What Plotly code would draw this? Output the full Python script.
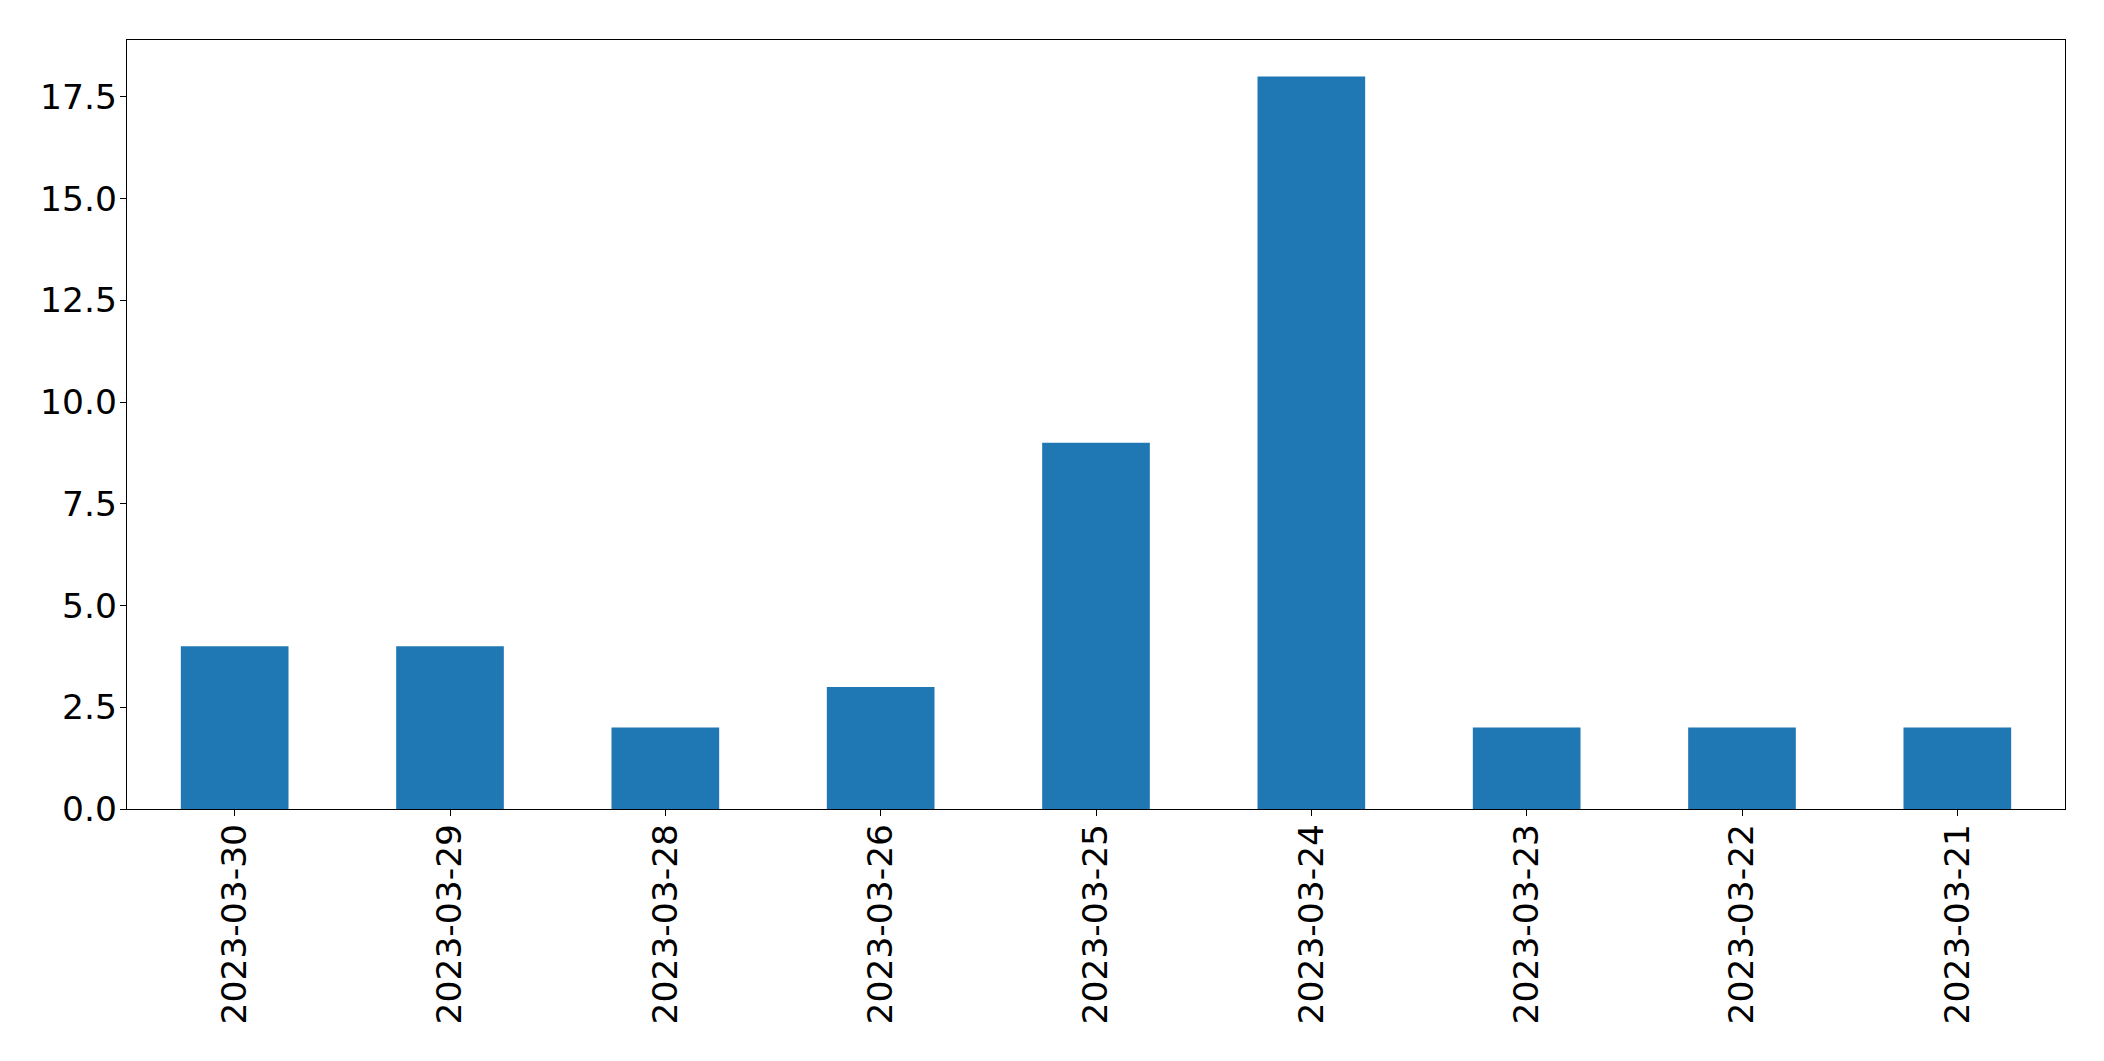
import plotly.graph_objects as go

dates = ["2023-03-30", "2023-03-29", "2023-03-28", "2023-03-26", "2023-03-25",
         "2023-03-24", "2023-03-23", "2023-03-22", "2023-03-21"]
counts = [4, 4, 2, 3, 9, 18, 2, 2, 2]
ytick_vals = [0, 2.5, 5, 7.5, 10, 12.5, 15, 17.5]

fig = go.Figure(go.Bar(x=dates, y=counts, marker_color="#1f77b4",
                       marker_line_width=0, width=0.5))

font = dict(family="DejaVu Sans", size=34.5, color="black")
fig.update_layout(
    width=2096, height=1053,
    margin=dict(l=119, r=39, t=32, b=252),
    plot_bgcolor="white", paper_bgcolor="white",
    showlegend=False, bargap=0.5,
    font=font,
)
fig.update_xaxes(
    type="category", range=[-0.5, 8.5], tickangle=-90,
    showline=True, linecolor="black", linewidth=1.3, mirror=True,
    ticks="outside", ticklen=6, tickwidth=1.3, tickcolor="black",
    showgrid=False, zeroline=False, tickfont=font, ticklabelstandoff=-6,
)
fig.update_yaxes(
    range=[0, 18.9], tickvals=ytick_vals, tickformat=".1f",
    showline=True, linecolor="black", linewidth=1.3, mirror=True,
    ticks="outside", ticklen=6, tickwidth=1.3, tickcolor="black",
    showgrid=False, zeroline=False, tickfont=font, ticklabelstandoff=-4,
)
fig.write_html("out.html")
